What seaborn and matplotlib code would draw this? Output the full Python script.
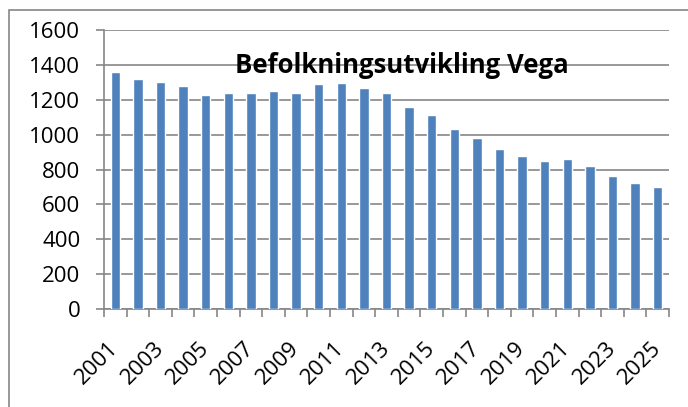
import pandas as pd
import matplotlib.pyplot as plt
import seaborn as sns
import numpy as np
from matplotlib.patches import Rectangle

years = [str(y) for y in range(2001, 2026)]
population = [1360, 1320, 1300, 1280, 1230, 1240, 1240, 1250, 1240, 1290,
              1295, 1270, 1240, 1160, 1110, 1030, 980, 920, 880, 850,
              860, 820, 760, 720, 700]
yticks = [0, 200, 400, 600, 800, 1000, 1200, 1400, 1600]

df = pd.DataFrame({"year": years, "pop": population})

sns.set_style("white")
plt.rcParams['font.family'] = ['Open Sans', 'DejaVu Sans']
plt.rcParams['text.color'] = 'black'
plt.rcParams['xtick.labelcolor'] = 'black'
plt.rcParams['ytick.labelcolor'] = 'black'

W, H = 688, 407
fig = plt.figure(figsize=(6.88, 4.07), dpi=100)
ax = fig.add_axes([104 / W, 1 - 309 / H, 565 / W, (309 - 30) / H])

grid_c = '#868686'
sns.barplot(data=df, x="year", y="pop", color='#4F81BD', saturation=1,
            width=0.42, ax=ax, zorder=3)

ax.set_xlim(-0.5, len(years) - 0.5)
ax.set_ylim(0, 1600)
ax.set_yticks(yticks)
ax.set_yticklabels([str(v) for v in yticks])
ax.yaxis.grid(True, color=grid_c, linewidth=1.2, zorder=0)
ax.set_axisbelow(True)

# labels every other year, tick marks at category boundaries
ax.set_xticks(range(0, len(years), 2))
ax.set_xticklabels(years[::2], rotation=45, ha='right', va='center',
                   rotation_mode='anchor')
ax.set_xticks(np.arange(-0.5, len(years)), minor=True)
ax.tick_params(axis='x', which='major', length=0, pad=26, labelsize=16,
               labelcolor='black')
ax.tick_params(axis='x', which='minor', length=6, width=1.2, color=grid_c,
               direction='out', bottom=True)
ax.tick_params(axis='y', length=6, width=1.2, color=grid_c, direction='out',
               left=True, pad=11, labelsize=16, labelcolor='black')

for s in ['top', 'right']:
    ax.spines[s].set_visible(False)
for s in ['left', 'bottom']:
    ax.spines[s].set_color(grid_c)
    ax.spines[s].set_linewidth(1.2)

ax.set_xlabel('')
ax.set_ylabel('')

fig.text(402 / W, 1 - 73 / H, 'Befolkningsutvikling Vega', ha='center',
         va='baseline', fontsize=18.5, fontweight='bold', color='black')

# chart border
fig.patches.append(Rectangle((9 / W, -0.1), 1.2, 1 - 10 / H + 0.1,
                             transform=fig.transFigure, fill=False,
                             edgecolor=grid_c, linewidth=1.2))

fig.savefig('out.png', dpi=100)
